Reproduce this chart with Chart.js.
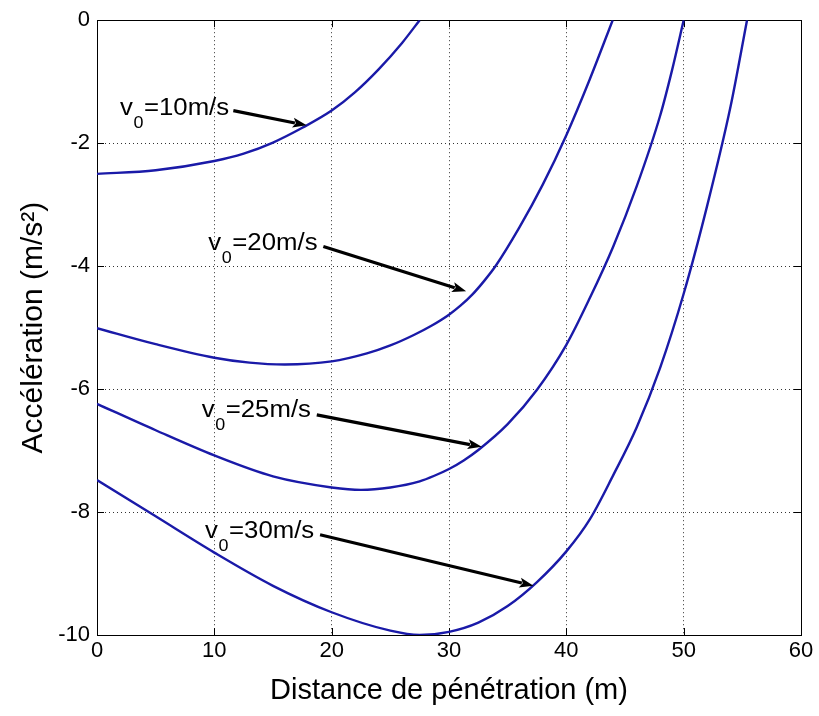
<!DOCTYPE html>
<html>
<head>
<meta charset="utf-8">
<title>Accélération</title>
<script src="https://cdn.jsdelivr.net/npm/chart.js@4.4.1/dist/chart.umd.min.js"></script>
<style>
  html, body { margin: 0; padding: 0; background: #fff; }
  canvas { display: block; }
</style>
</head>
<body>
<canvas id="graphe" width="819" height="716"></canvas>
<script>
// valeurs
const dist10 = [0, 5, 10, 12.5, 15, 17.5, 20, 22, 24, 26, 27.5];
const acc10  = [-2.50, -2.44, -2.29, -2.17, -1.99, -1.75, -1.47, -1.17, -0.80, -0.37, 0];

const dist20 = [0, 5, 10, 13, 16, 20, 23, 25, 27, 28.5, 30, 31, 32, 33, 34, 36, 38, 40, 42, 43.95];
const acc20  = [-5.01, -5.27, -5.49, -5.57, -5.60, -5.55, -5.42, -5.29, -5.12, -4.97, -4.79, -4.64, -4.46, -4.24, -3.99, -3.37, -2.67, -1.87, -0.96, 0];

const dist25 = [0, 5, 10, 15, 20, 22.5, 25, 27.5, 28.75, 30, 31.25, 32.5, 35, 37.5, 40, 42, 44, 46, 48, 49, 50];
const acc25  = [-6.24, -6.67, -7.08, -7.42, -7.60, -7.64, -7.60, -7.50, -7.41, -7.30, -7.16, -6.99, -6.57, -6.01, -5.28, -4.52, -3.68, -2.70, -1.55, -0.82, 0];

const dist30 = [0, 5, 10, 15, 20, 25, 27.5, 30, 32.5, 35, 37.5, 40, 42, 44, 46, 48, 50, 52, 54, 55.4];
const acc30  = [-7.48, -8.07, -8.66, -9.20, -9.63, -9.93, -10.0, -9.95, -9.80, -9.53, -9.14, -8.64, -8.12, -7.40, -6.62, -5.65, -4.45, -3.02, -1.40, 0];

const xTicks = [0, 10, 20, 30, 40, 50, 60];
const yTicks = [0, -2, -4, -6, -8, -10];
const vitesses = ['10', '20', '25', '30'];

const police = '"Liberation Sans", Arial, Helvetica, sans-serif';
const bleu = '#1a1aa8';

const serie = (xs, ys) => xs.map((x, i) => ({ x: x, y: ys[i] }));

// flèches des étiquettes (unités du graphe)
const fleches = [
    { texte: [1.96, -1.54],  de: [11.62, -1.47], vers: [17.87, -1.71] },
    { texte: [9.49, -3.73],  de: [19.29, -3.68], vers: [31.46, -4.41] },
    { texte: [8.93, -6.46],  de: [18.73, -6.42], vers: [32.79, -6.94] },
    { texte: [9.21, -8.42],  de: [19.01, -8.37], vers: [37.2, -9.20] }
];

const cadre = {
    id: 'cadre',
    beforeDatasetsDraw(chart) {
        const { ctx, chartArea: a, scales: { x, y } } = chart;
        ctx.save();
        ctx.strokeStyle = '#000';
        ctx.lineWidth = 1;
        ctx.strokeRect(Math.round(a.left) + 0.5, Math.round(a.top) + 0.5,
            Math.round(a.right - a.left), Math.round(a.bottom - a.top));
        ctx.beginPath();
        xTicks.forEach(v => {
            const px = Math.round(x.getPixelForValue(v)) + 0.5;
            ctx.moveTo(px, a.bottom); ctx.lineTo(px, a.bottom - 7);
            ctx.moveTo(px, a.top); ctx.lineTo(px, a.top + 7);
        });
        yTicks.forEach(v => {
            const py = Math.round(y.getPixelForValue(v)) + 0.5;
            ctx.moveTo(a.left, py); ctx.lineTo(a.left + 7, py);
            ctx.moveTo(a.right, py); ctx.lineTo(a.right - 7, py);
        });
        ctx.stroke();
        ctx.restore();
    }
};

const etiquettes = {
    id: 'etiquettes',
    afterDatasetsDraw(chart) {
        const { ctx, scales: { x, y } } = chart;
        ctx.save();
        fleches.forEach((f, i) => {
            // texte v0=..m/s
            const tx = x.getPixelForValue(f.texte[0]);
            const ty = y.getPixelForValue(f.texte[1]);
            ctx.save();
            ctx.translate(tx, ty);
            ctx.scale(1.12, 1);
            ctx.fillStyle = '#000';
            ctx.textBaseline = 'alphabetic';
            ctx.textAlign = 'left';
            ctx.font = '23px ' + police;
            let cx = 0;
            ctx.fillText('v', cx, 0);
            cx += ctx.measureText('v').width;
            ctx.font = '16px ' + police;
            ctx.fillText('0', cx + 0.5, 13);
            cx += ctx.measureText('0').width + 1;
            ctx.font = '23px ' + police;
            ctx.fillText('=' + vitesses[i] + 'm/s', cx, 0);
            ctx.restore();

            // flèche
            const x0 = x.getPixelForValue(f.de[0]), y0 = y.getPixelForValue(f.de[1]);
            const x1 = x.getPixelForValue(f.vers[0]), y1 = y.getPixelForValue(f.vers[1]);
            const ang = Math.atan2(y1 - y0, x1 - x0);
            const L = 14, W = 5;
            const bx = x1 - L * Math.cos(ang), by = y1 - L * Math.sin(ang);
            ctx.strokeStyle = '#000';
            ctx.lineWidth = 3.2;
            ctx.beginPath();
            ctx.moveTo(x0, y0);
            ctx.lineTo(bx + 2 * Math.cos(ang), by + 2 * Math.sin(ang));
            ctx.stroke();
            ctx.fillStyle = '#000';
            ctx.beginPath();
            ctx.moveTo(x1, y1);
            ctx.lineTo(bx - W * Math.sin(ang), by + W * Math.cos(ang));
            ctx.lineTo(bx + 3 * Math.cos(ang), by + 3 * Math.sin(ang));
            ctx.lineTo(bx + W * Math.sin(ang), by - W * Math.cos(ang));
            ctx.closePath();
            ctx.fill();
        });
        ctx.restore();
    }
};

const axeCommun = {
    type: 'linear',
    grid: { color: '#333', lineWidth: 1, drawTicks: false },
    border: { display: false, dash: [1, 3] },
};

new Chart(document.getElementById('graphe'), {
    type: 'line',
    data: {
        datasets: [
            { data: serie(dist10, acc10), borderColor: bleu },
            { data: serie(dist20, acc20), borderColor: bleu },
            { data: serie(dist25, acc25), borderColor: bleu },
            { data: serie(dist30, acc30), borderColor: bleu }
        ]
    },
    options: {
        responsive: false,
        animation: false,
        events: [],
        elements: {
            point: { radius: 0 },
            line: { borderWidth: 2.4, cubicInterpolationMode: 'monotone', fill: false }
        },
        layout: { padding: { top: 17, right: 18, left: 0, bottom: 0 } },
        plugins: { legend: { display: false }, tooltip: { enabled: false } },
        scales: {
            x: {
                ...axeCommun,
                min: 0, max: 60,
                afterBuildTicks: s => { s.ticks = xTicks.map(v => ({ value: v })); },
                afterFit: s => { s.height = 81; },
                ticks: { color: '#000', font: { family: police, size: 22 }, padding: 3, maxRotation: 0, callback: v => String(v) },
                title: { display: true, text: 'Distance de pénétration (m)', color: '#000',
                    font: { family: police, size: 29 }, padding: { top: 0, bottom: 8 } }
            },
            y: {
                ...axeCommun,
                min: -10, max: 0,
                afterBuildTicks: s => { s.ticks = yTicks.map(v => ({ value: v })); },
                afterFit: s => { s.width = 97; },
                ticks: { color: '#000', font: { family: police, size: 22 }, padding: 7, callback: v => String(v) },
                title: { display: true, text: 'Accélération (m/s²)', color: '#000',
                    font: { family: police, size: 30 }, padding: { top: 16, bottom: 0 } }
            }
        }
    },
    plugins: [cadre, etiquettes]
});
</script>
</body>
</html>
